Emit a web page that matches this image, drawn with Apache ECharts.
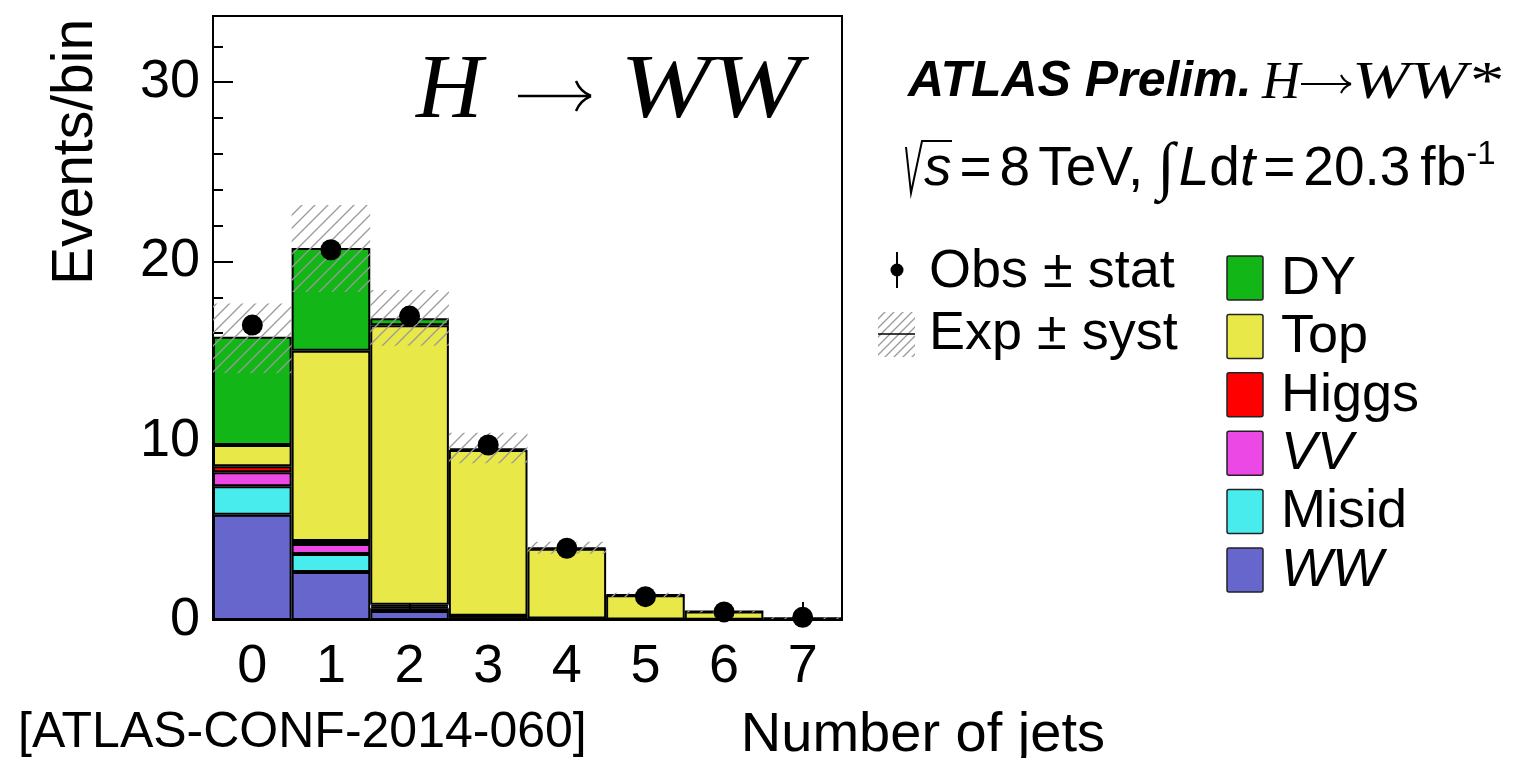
<!DOCTYPE html>
<html>
<head>
<meta charset="utf-8">
<script src="https://cdn.jsdelivr.net/npm/echarts@6/dist/echarts.min.js"></script>
<style>
  html, body { margin: 0; padding: 0; background: #fff; }
  #main { width: 1514px; height: 758px; }
</style>
</head>
<body>
<div id="main"></div>
<script>
// Jet-multiplicity bins
const jetBins = ['0', '1', '2', '3', '4', '5', '6', '7'];

// Expected yields per bin, stacked bottom to top
const wwYield    = [5.87, 2.68, 0.50, 0.15, 0.05, 0.02, 0.01, 0.00];
const misidYield = [1.59, 1.00, 0.15, 0.05, 0.02, 0.01, 0.00, 0.00];
const vvYield    = [0.78, 0.56, 0.10, 0.02, 0.01, 0.00, 0.00, 0.00];
const higgsYield = [0.33, 0.17, 0.10, 0.02, 0.01, 0.00, 0.00, 0.00];
const topYield   = [1.19, 10.61, 15.59, 9.24, 3.89, 1.35, 0.46, 0.10];
const dyYield    = [6.04, 5.73, 0.39, 0.10, 0.05, 0.02, 0.01, 0.00];

// Observed data
const observed = [16.45, 20.65, 16.95, 9.76, 4.00, 1.30, 0.45, 0.15];

// Systematic band edges on the total expectation
const systLow  = [13.77, 18.30, 15.30, 8.75, 3.70, 1.28, 0.42, 0.05];
const systHigh = [17.65, 23.15, 18.40, 10.45, 4.37, 1.52, 0.54, 0.15];

// Y-axis ticks
const yTicks = [0, 10, 20, 30];

const colors = {
  WW: '#6666cc', Misid: '#48ecec', VV: '#ec48e6',
  Higgs: '#ff0000', Top: '#e8e848', DY: '#12b617'
};

const SANS = '"Liberation Sans", Arial, Helvetica, sans-serif';
const SERIF = '"Liberation Serif", "Times New Roman", serif';

// Diagonal hatching tile
function makeHatch(s) {
  const c = document.createElement('canvas');
  c.width = s; c.height = s;
  const g = c.getContext('2d');
  g.strokeStyle = '#9a9a9a';
  g.lineWidth = 1.3;
  g.beginPath();
  g.moveTo(0, s); g.lineTo(s, 0);
  g.moveTo(-2, 2); g.lineTo(2, -2);
  g.moveTo(s - 2, s + 2); g.lineTo(s + 2, s - 2);
  g.stroke();
  return c;
}
const hatch = makeHatch(13);
const hatchSmall = makeHatch(9);

const chart = echarts.init(document.getElementById('main'), null, { renderer: 'canvas' });

function stackSeries(name, data) {
  return {
    name: name,
    type: 'bar',
    stack: 'bkg',
    barWidth: '100%',
    data: data,
    itemStyle: { color: colors[name], borderColor: '#000', borderWidth: 2 },
    z: 2
  };
}

// Arrow glyph built from a shaft and two curved barbs
function arrow(x0, x1, y, h, w, lw) {
  const st = { stroke: '#000', lineWidth: lw, fill: null };
  return [
    { type: 'line', shape: { x1: x0, y1: y, x2: x1, y2: y }, style: st },
    { type: 'bezierCurve', shape: { x1: x1 - w, y1: y - h, cpx1: x1 - w * 0.7, cpy1: y - h * 0.3, x2: x1 + 1, y2: y }, style: st },
    { type: 'bezierCurve', shape: { x1: x1 + 1, y1: y, cpx1: x1 - w * 0.7, cpy1: y + h * 0.3, x2: x1 - w, y2: y + h }, style: st }
  ];
}

const bandData = jetBins.map((_, i) => [i, systLow[i], systHigh[i]]);

// Legend entries for the stacked components
const stackLegend = [['DY', false], ['Top', false], ['Higgs', false], ['VV', true], ['Misid', false], ['WW', true]];

const option = {
  animation: false,
  grid: { left: 213, top: 16, right: 672, bottom: 138, show: true, borderColor: '#000', borderWidth: 2, backgroundColor: 'transparent' },
  xAxis: {
    type: 'category',
    data: jetBins,
    boundaryGap: true,
    axisLine: { show: true, lineStyle: { color: '#000', width: 2 } },
    axisTick: { show: true, inside: true, alignWithLabel: true, length: 18, lineStyle: { color: '#000', width: 2 } },
    axisLabel: { color: '#000', fontSize: 54, fontFamily: SANS, margin: 20 },
    splitLine: { show: false }
  },
  yAxis: {
    type: 'value',
    min: 0,
    max: 33.69,
    interval: 10,
    axisLine: { show: true, lineStyle: { color: '#000', width: 2 } },
    axisTick: { show: true, inside: true, length: 20, lineStyle: { color: '#000', width: 2 } },
    minorTick: { show: true, splitNumber: 5, length: 10, lineStyle: { color: '#000', width: 2 } },
    axisLabel: {
      color: '#000', fontSize: 54, fontFamily: SANS, margin: 13,
      showMaxLabel: false,
      formatter: v => (yTicks.indexOf(v) >= 0 ? String(v) : '')
    },
    splitLine: { show: false }
  },
  series: [
    stackSeries('WW', wwYield),
    stackSeries('Misid', misidYield),
    stackSeries('VV', vvYield),
    stackSeries('Higgs', higgsYield),
    stackSeries('Top', topYield),
    stackSeries('DY', dyYield),
    {
      name: 'Exp ± syst',
      type: 'custom',
      data: bandData,
      z: 5,
      renderItem: function (params, api) {
        const x = api.value(0);
        const lo = api.coord([x, api.value(1)]);
        const hi = api.coord([x, api.value(2)]);
        const w = api.size([1, 0])[0];
        return {
          type: 'rect',
          shape: { x: lo[0] - w / 2, y: hi[1], width: w, height: lo[1] - hi[1] },
          style: { fill: { image: hatch, repeat: 'repeat' } }
        };
      }
    },
    {
      name: 'Obs ± stat',
      type: 'scatter',
      data: observed,
      symbol: 'circle',
      symbolSize: 21,
      itemStyle: { color: '#000', opacity: 1 },
      z: 10
    }
  ],
  graphic: {
    elements: [
      // y-axis title
      {
        type: 'text', x: 76, y: 152, rotation: Math.PI / 2,
        style: { text: 'Events/bin', font: '57px ' + SANS, fill: '#000', textAlign: 'center', textVerticalAlign: 'middle' }
      },
      // x-axis title
      {
        type: 'text', x: 1105, y: 736,
        style: { text: 'Number of jets', font: '56px ' + SANS, fill: '#000', textAlign: 'right', textVerticalAlign: 'middle' }
      },
      // reference tag
      {
        type: 'text', x: 18, y: 733,
        style: { text: '[ATLAS-CONF-2014-060]', font: '50px ' + SANS, fill: '#000', textAlign: 'left', textVerticalAlign: 'middle' }
      },
      // process label in frame: H -> WW
      {
        type: 'text', x: 416, y: 93,
        style: { text: 'H', font: 'italic 92px ' + SERIF, fill: '#000', textAlign: 'left', textVerticalAlign: 'middle' }
      },
      {
        type: 'text', x: 620, y: 93, scaleX: 1.18,
        style: { text: 'WW', font: 'italic 92px ' + SERIF, fill: '#000', textAlign: 'left', textVerticalAlign: 'middle' }
      },
      // ATLAS label line
      {
        type: 'text', x: 908, y: 82,
        style: { text: 'ATLAS Prelim.', font: 'italic bold 50px ' + SANS, fill: '#000', textAlign: 'left', textVerticalAlign: 'middle' }
      },
      {
        type: 'text', x: 1262, y: 84,
        style: { text: 'H', font: 'italic 53px ' + SERIF, fill: '#000', textAlign: 'left', textVerticalAlign: 'middle' }
      },
      {
        type: 'text', x: 1352, y: 84, scaleX: 1.3,
        style: { text: 'WW*', font: 'italic 53px ' + SERIF, fill: '#000', textAlign: 'left', textVerticalAlign: 'middle' }
      },
      // energy and luminosity line
      {
        type: 'polyline',
        shape: { points: [[906, 147], [911, 193], [922, 141], [952, 141]] },
        style: { stroke: '#000', lineWidth: 2, fill: null }
      },
      {
        type: 'text', x: 924, y: 170,
        style: {
          text: '{i|s}{e|=}{n|8}{t|TeV,}{g|∫}{i|L}{n|d}{i|t}{e|=}{n|20.3}{f|fb}{s|-1}',
          textAlign: 'left', textVerticalAlign: 'middle',
          rich: {
            n: { font: '55px ' + SANS, fill: '#000' },
            t: { font: '55px ' + SANS, fill: '#000', padding: [0, 14, 0, 8] },
            f: { font: '55px ' + SANS, fill: '#000', padding: [0, 0, 0, 10] },
            i: { font: 'italic 55px ' + SANS, fill: '#000' },
            e: { font: '55px ' + SANS, fill: '#000', padding: [0, 8, 0, 8] },
            g: { font: '64px ' + SERIF, fill: '#000', padding: [0, 4, 0, 0] },
            s: { font: '33px ' + SANS, fill: '#000', verticalAlign: 'top', padding: [0, 0, 26, 0] }
          }
        }
      },
      // legend: observed marker
      { type: 'line', shape: { x1: 897, y1: 252, x2: 897, y2: 288 }, style: { stroke: '#000', lineWidth: 2 } },
      { type: 'circle', shape: { cx: 897, cy: 270, r: 6.5 }, style: { fill: '#000' } },
      {
        type: 'text', x: 929, y: 272,
        style: { text: 'Obs ± stat', font: '54px ' + SANS, fill: '#000', textVerticalAlign: 'middle' }
      },
      // legend: systematic band
      { type: 'rect', shape: { x: 878, y: 312, width: 37, height: 45 }, style: { fill: { image: hatchSmall, repeat: 'repeat' } } },
      { type: 'line', shape: { x1: 878, y1: 334, x2: 915, y2: 334 }, style: { stroke: '#000', lineWidth: 1.5 } },
      {
        type: 'text', x: 929, y: 334,
        style: { text: 'Exp ± syst', font: '54px ' + SANS, fill: '#000', textVerticalAlign: 'middle' }
      }
    ].concat(
      arrow(518, 590, 96, 15, 14, 2.5),
      arrow(1301, 1350, 84, 9, 9, 2),
      stackLegend.flatMap((e, k) => {
        const yc = 278 + k * 58.4;
        return [
          { type: 'rect', shape: { x: 1227, y: yc - 22, width: 36, height: 44, r: 2 }, style: { fill: colors[e[0]], stroke: '#222', lineWidth: 1.5 } },
          {
            type: 'text', x: 1281, y: yc + 1,
            style: { text: e[0], font: (e[1] ? 'italic ' : '') + '54px ' + SANS, fill: '#000', textVerticalAlign: 'middle' }
          }
        ];
      })
    )
  }
};

chart.setOption(option);
</script>
</body>
</html>
